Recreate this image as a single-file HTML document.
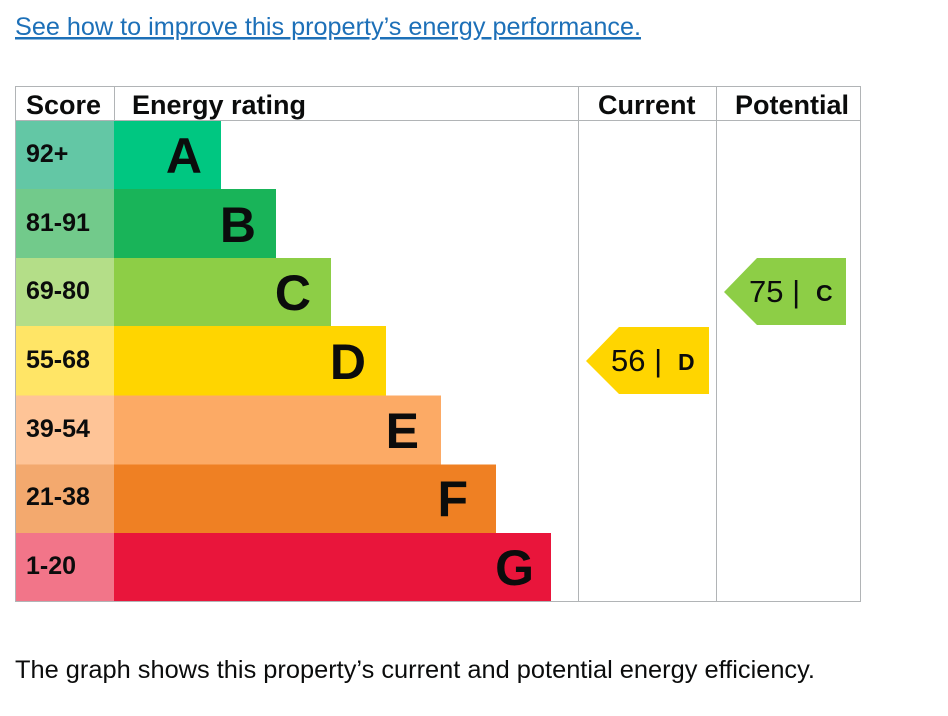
<!DOCTYPE html>
<html><head><meta charset="utf-8"><style>
html,body{margin:0;padding:0;background:#fff;width:948px;height:716px;overflow:hidden}
svg{display:block}
text{font-family:"Liberation Sans",Arial,sans-serif}
</style></head><body>
<svg width="948" height="716" viewBox="0 0 948 716" xmlns="http://www.w3.org/2000/svg">
<text x="15" y="35" font-size="25" fill="#1d70b8" text-decoration="underline" textLength="626" lengthAdjust="spacingAndGlyphs">See how to improve this property’s energy performance.</text>
<g font-weight="bold">
<rect x="15" y="120" width="99" height="69" fill="#63c7a5"/><rect x="114" y="120" width="107" height="69" fill="#00c781"/>
<rect x="15" y="189" width="99" height="69" fill="#72ca8b"/><rect x="114" y="189" width="162" height="69" fill="#19b459"/>
<rect x="15" y="258" width="99" height="68" fill="#b4de88"/><rect x="114" y="258" width="217" height="68" fill="#8dce46"/>
<rect x="15" y="326" width="99" height="69.5" fill="#ffe566"/><rect x="114" y="326" width="272" height="69.5" fill="#ffd500"/>
<rect x="15" y="395.5" width="99" height="69" fill="#fec497"/><rect x="114" y="395.5" width="327" height="69" fill="#fcaa65"/>
<rect x="15" y="464.5" width="99" height="68.5" fill="#f3a96e"/><rect x="114" y="464.5" width="382" height="68.5" fill="#ef8023"/>
<rect x="15" y="533" width="99" height="68.5" fill="#f27589"/><rect x="114" y="533" width="437" height="68.5" fill="#e9153b"/>
<g font-size="25" fill="#0b0c0c">
<text x="26" y="162">92+</text><text x="26" y="231">81-91</text><text x="26" y="299">69-80</text><text x="26" y="368">55-68</text><text x="26" y="437">39-54</text><text x="26" y="505">21-38</text><text x="26" y="574">1-20</text>
</g>
<g font-size="50" fill="#0b0c0c" text-anchor="end">
<text x="202" y="173">A</text><text x="256" y="242">B</text><text x="311" y="310">C</text><text x="366" y="379">D</text><text x="419" y="448">E</text><text x="468" y="516">F</text><text x="534" y="585">G</text>
</g>
<g font-size="27" fill="#0b0c0c">
<text x="26" y="114">Score</text><text x="132" y="114">Energy rating</text><text x="598" y="114">Current</text><text x="735" y="114">Potential</text>
</g>
</g>
<g stroke="#b1b4b6" stroke-width="1" fill="none">
<rect x="15.5" y="86.5" width="845" height="515"/>
<line x1="15" y1="120.5" x2="861" y2="120.5"/>
<line x1="114.5" y1="86" x2="114.5" y2="120"/>
<line x1="578.5" y1="86" x2="578.5" y2="602"/>
<line x1="716.5" y1="86" x2="716.5" y2="602"/>
</g>
<polygon points="586,361 619,327 709,327 709,394 619,394" fill="#ffd500"/>
<polygon points="724,292 757,258 846,258 846,325 757,325" fill="#8dce46"/>
<g fill="#0b0c0c">
<text x="611" y="371" font-size="31">56 |</text><text x="678" y="370" font-size="23" font-weight="bold">D</text>
<text x="749" y="302" font-size="31">75 |</text><text x="816" y="301" font-size="23" font-weight="bold">C</text>
</g>
<text x="15" y="678" font-size="25" fill="#0b0c0c" textLength="800" lengthAdjust="spacingAndGlyphs">The graph shows this property’s current and potential energy efficiency.</text>
</svg>
</body></html>
